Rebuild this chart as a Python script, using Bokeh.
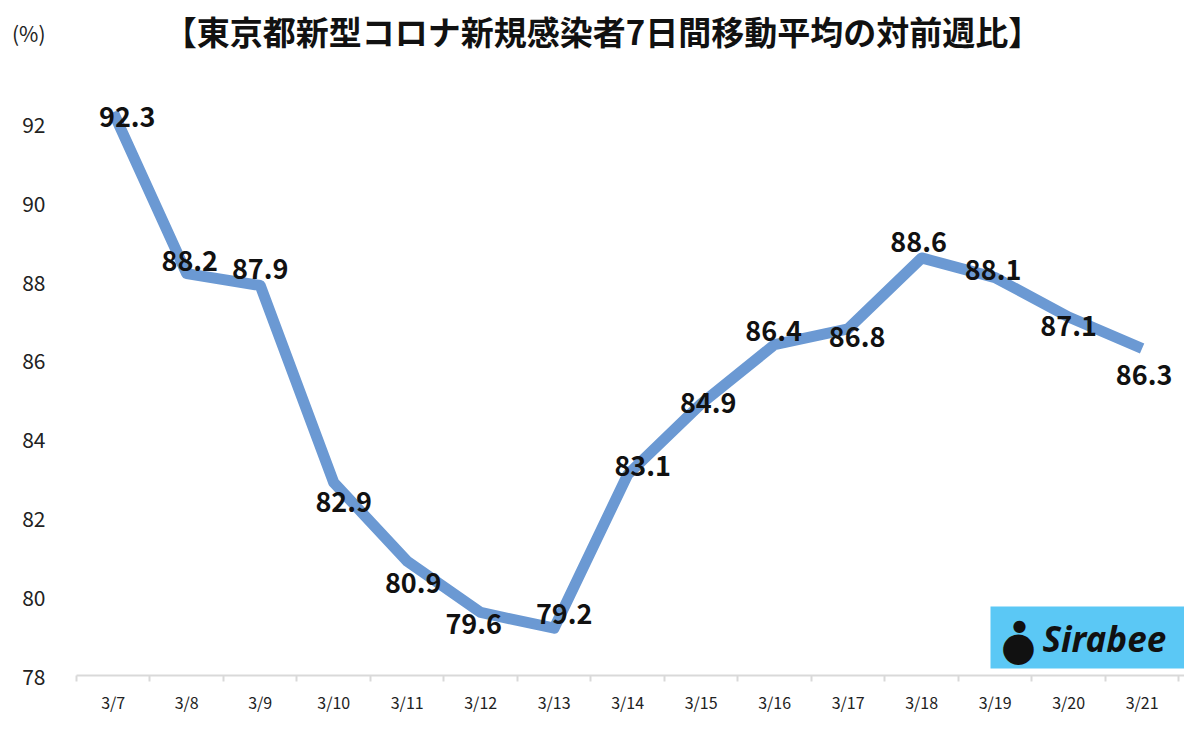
from bokeh.plotting import figure
from bokeh.models import ColumnDataSource, FixedTicker, Label, BoxAnnotation
from bokeh.core.properties import value
from bokeh.embed import file_html
from bokeh.resources import INLINE

categories = ["3/7", "3/8", "3/9", "3/10", "3/11", "3/12", "3/13", "3/14",
              "3/15", "3/16", "3/17", "3/18", "3/19", "3/20", "3/21"]
ratio = [92.3, 88.2, 87.9, 82.9, 80.9, 79.6, 79.2, 83.1,
         84.9, 86.4, 86.8, 88.6, 88.1, 87.1, 86.3]
y_ticks = [78, 80, 82, 84, 86, 88, 90, 92]
unit_label = "(%)"
title_text = "【東京都新型コロナ新規感染者7日間移動平均の対前週比】"

# label offsets in screen pixels (style only)
label_dx = [14, 3, 0, 10, 6, -7, 10, 15, 7, -1, 9, -3, -2, 0, 2]
label_dy = [5, -13, -16, 20, 22, 12, -14, -9, -1, -14, 8, -16, -8, 9, 26]

# layout geometry (pixels)
LEFT = 76
TOP = 8          # frame top
FB = 678         # expected frame bottom
PX_PER_UNIT = (FB - 124) / (92 - 78)
y_end = 92 + (124 - TOP) / PX_PER_UNIT
unit_pos = round(92 + (124 - 33) / PX_PER_UNIT, 2)

xs = list(range(len(categories)))
src = ColumnDataSource(dict(x=xs, y=ratio, txt=[f"{v:.1f}" for v in ratio],
                            dx=label_dx, dy=label_dy))

p = figure(width=1184, height=716, output_backend="svg", toolbar_location=None,
           x_range=(-0.5, len(categories) - 0.5 + 0.077), y_range=(78, y_end),
           min_border_left=LEFT, min_border_right=0, min_border_top=TOP,
           min_border_bottom=20)
p.outline_line_color = None
p.grid.visible = False
p.background_fill_color = "white"
p.border_fill_color = "white"

# x axis
p.xaxis.ticker = FixedTicker(ticks=xs, minor_ticks=[i - 0.5 for i in range(len(categories) + 1)])
p.xaxis.major_label_overrides = {i: c for i, c in enumerate(categories)}
p.xaxis.axis_line_color = "#d9d9d9"
p.xaxis.axis_line_width = 2
p.xaxis.major_tick_line_color = None
p.xaxis.major_tick_out = 0
p.xaxis.minor_tick_line_color = "#d9d9d9"
p.xaxis.minor_tick_line_width = 2
p.xaxis.minor_tick_out = 6
p.xaxis.minor_tick_in = 0
p.xaxis.major_label_text_font = "Noto Sans CJK JP"
p.xaxis.major_label_text_font_size = "16px"
p.xaxis.major_label_text_color = "#222222"
p.xaxis.major_label_standoff = 8

# y axis (unit label shown as the topmost tick label)
p.yaxis.ticker = FixedTicker(ticks=y_ticks + [unit_pos])
p.yaxis.major_label_overrides = {unit_pos: unit_label}
p.yaxis.axis_line_color = None
p.yaxis.major_tick_line_color = None
p.yaxis.major_tick_out = 0
p.yaxis.minor_tick_line_color = None
p.yaxis.major_label_text_font = "Noto Sans CJK JP"
p.yaxis.major_label_text_font_size = "21px"
p.yaxis.major_label_text_color = "#222222"
p.yaxis.major_label_standoff = 31

p.line("x", "y", source=src, line_color="#6b99d3", line_width=11, line_join="round")
p.text("x", "y", text="txt", source=src, x_offset="dx", y_offset="dy",
       text_align="center", text_baseline="middle",
       text_font=value("Noto Sans CJK JP"), text_font_style="bold",
       text_font_size="27px", text_color="#111111")

# title (screen units, relative to frame)
p.add_layout(Label(x=602 - LEFT, y=FB - 33, x_units="screen", y_units="screen",
                   text=title_text,
                   text_font="Noto Sans CJK JP", text_font_style="bold",
                   text_font_size="33px", text_align="center", text_baseline="middle",
                   text_color="#111111"))

# Sirabee logo
p.add_layout(BoxAnnotation(left=990 - LEFT, right=1190 - LEFT, bottom=FB - 671, top=FB - 609,
                           left_units="screen", right_units="screen",
                           bottom_units="screen", top_units="screen",
                           fill_color="#5bc8f5", fill_alpha=1.0, line_color=None))
p.add_layout(Label(x=1042 - LEFT, y=FB - 641, x_units="screen", y_units="screen", text="Sirabee",
                   text_font="Noto Sans", text_font_style="bold italic",
                   text_font_size="35px", text_align="left", text_baseline="middle",
                   text_color="#111111"))
p.add_layout(Label(x=1018 - LEFT, y=FB - 648, x_units="screen", y_units="screen", text="●",
                   text_font="DejaVu Sans", text_font_size="40px",
                   text_align="center", text_baseline="middle", text_color="#111111"))
p.add_layout(Label(x=1019 - LEFT, y=FB - 628, x_units="screen", y_units="screen", text="●",
                   text_font="DejaVu Sans", text_font_size="16px",
                   text_align="center", text_baseline="middle", text_color="#111111"))

open("out.html", "w").write(file_html(p, INLINE))
